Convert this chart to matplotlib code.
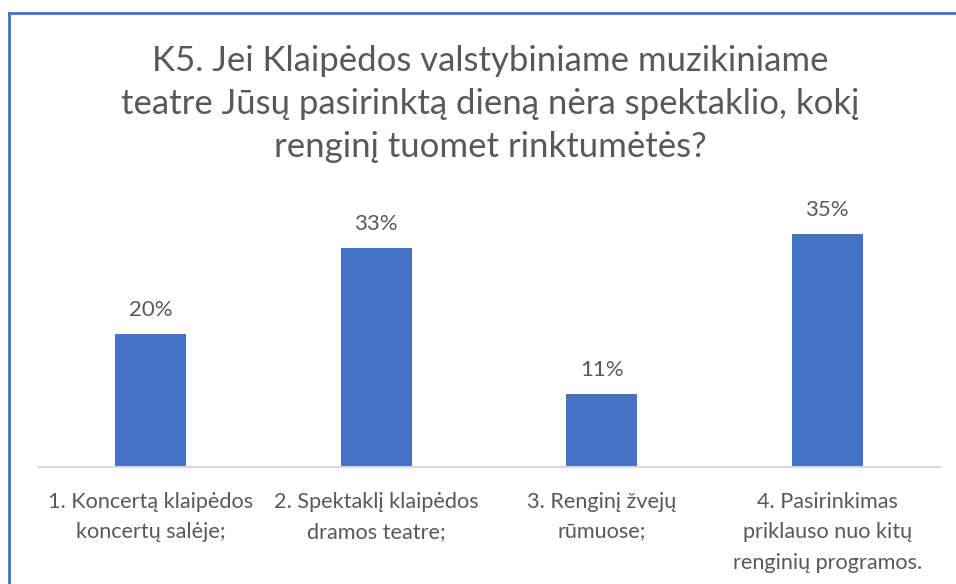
import matplotlib
matplotlib.use("Agg")
import matplotlib.pyplot as plt
from matplotlib.lines import Line2D

categories = ["1. Koncertą klaipėdos\nkoncertų salėje;",
              "2. Spektaklį klaipėdos\ndramos teatre;",
              "3. Renginį žvejų\nrūmuose;",
              "4. Pasirinkimas\npriklauso nuo kitų\nrenginių programos."]
values = [20, 33, 11, 35]
value_labels = ["20%", "33%", "11%", "35%"]
title = ("K5. Jei Klaipėdos valstybiniame muzikiniame\n"
         "teatre Jūsų pasirinktą dieną nėra spektaklio, kokį\n"
         "renginį tuomet rinktumėtės?")

bar_color = "#4472C4"
text_color = "#595959"

plt.rcParams["font.family"] = ["Lato", "DejaVu Sans"]

fig = plt.figure(figsize=(9.56, 5.84), dpi=100)
ax = fig.add_axes([38 / 956, 1 - 467 / 584, 902 / 956, 266 / 584])

x = range(len(categories))
ax.bar(x, values, width=0.315, color=bar_color, zorder=2)
for xi, v, lab in zip(x, values, value_labels):
    ax.annotate(lab, (xi, v), xytext=(0, 10), textcoords="offset points",
                ha="center", va="bottom", fontsize=16, color=text_color)

ax.set_xlim(-0.5, len(categories) - 0.5)
ax.set_ylim(0, 40)
ax.set_yticks([])
ax.set_xticks(list(x))
ax.set_xticklabels(categories, fontsize=15.6, color=text_color, linespacing=1.65)
ax.tick_params(axis="x", length=0, pad=18)
for s in ["top", "right", "left"]:
    ax.spines[s].set_visible(False)
ax.spines["bottom"].set_color("#D9D9D9")
ax.spines["bottom"].set_linewidth(1.5)

fig.text(490 / 956, 1 - 45 / 584, title, ha="center", va="top", fontsize=25,
         color=text_color, linespacing=1.42)

# chart frame
fig.add_artist(Line2D([9 / 956, 9 / 956], [0, 1 - 13 / 584], color=bar_color, lw=2,
                      transform=fig.transFigure))
fig.add_artist(Line2D([9 / 956, 1], [1 - 13 / 584, 1 - 13 / 584], color=bar_color, lw=2,
                      transform=fig.transFigure))

fig.savefig("out.png", dpi=100)
